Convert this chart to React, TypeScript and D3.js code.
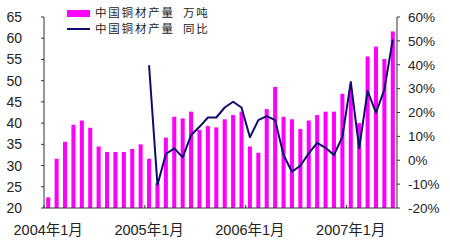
import React from 'react';
import * as d3 from 'd3';

const categories = [
  '2004-01','2004-02','2004-03','2004-04','2004-05','2004-06','2004-07','2004-08','2004-09','2004-10','2004-11','2004-12',
  '2005-01','2005-02','2005-03','2005-04','2005-05','2005-06','2005-07','2005-08','2005-09','2005-10','2005-11','2005-12',
  '2006-01','2006-02','2006-03','2006-04','2006-05','2006-06','2006-07','2006-08','2006-09','2006-10','2006-11','2006-12',
  '2007-01','2007-02','2007-03','2007-04','2007-05','2007-06',
];

const output: number[] = [
  22.5, 31.6, 35.6, 39.6, 40.6, 38.9, 34.5, 33.2, 33.2, 33.2, 33.9, 35.0,
  31.6, 25.9, 36.6, 41.5, 41.1, 42.7, 38.4, 39.3, 39.0, 40.9, 41.9, 42.7,
  34.5, 33.0, 43.3, 48.5, 41.5, 40.9, 38.6, 40.6, 41.9, 42.7, 42.7, 46.9,
  48.0, 40.0, 55.7, 58.0, 55.1, 61.6,
];

const yoy: (number | null)[] = [
  null, null, null, null, null, null, null, null, null, null, null, null,
  39.8, -10.4, 2.6, 5.0, 1.2, 10.5, 14.0, 17.9, 17.9, 22.1, 24.5, 22.1,
  9.6, 16.8, 18.5, 16.8, 2.2, -4.8, -2.3, 2.9, 7.3, 5.2, 2.2, 9.8,
  32.8, 5.0, 29.1, 19.9, 29.7, 50.6,
];

const leftTicks = [20, 25, 30, 35, 40, 45, 50, 55, 60, 65];
const rightTicks = [-20, -10, 0, 10, 20, 30, 40, 50, 60];
const xLabelCats = ['2004-01', '2005-01', '2006-01', '2007-01'];
const xLabels = ['2004年1月', '2005年1月', '2006年1月', '2007年1月'];
const legendBar = ['中国铜材产量', '万吨'];
const legendLine = ['中国铜材产量', '同比'];

const W = 450, H = 250;
const L = 44, R = 397, T = 17, B = 208;
const FONT = '"Liberation Sans", Arial, "Noto Sans CJK SC", sans-serif';
const CJK = '"Noto Sans CJK SC", "Liberation Sans", sans-serif';
const AXIS = '#333';

export default function App() {
  const x = d3.scaleBand<string>().domain(categories).range([L, R]).paddingInner(0.52).paddingOuter(0.26);
  const step = x.step();
  const bw = x.bandwidth();
  const cx = (c: string) => (x(c) as number) + bw / 2;
  const yL = d3.scaleLinear().domain([20, 65]).range([B, T]);
  const yR = d3.scaleLinear().domain([-20, 60]).range([B, T]);

  const lineData = categories.map((c, i) => ({ c, v: yoy[i] }));
  const line = d3.line<{ c: string; v: number | null }>()
    .defined(d => d.v != null)
    .x(d => cx(d.c))
    .y(d => yR(d.v as number));

  const yearTicks = [0, 12, 24, 36].map(k => L + k * step);

  return (
    <svg width={W} height={H} style={{ position: 'absolute', left: 0, top: 0, background: '#fff' }}>
      <rect x={0} y={0} width={W} height={H} fill="#fff" />
      {categories.map((c, i) => (
        <rect key={c} x={x(c)} y={yL(output[i])} width={bw} height={B - yL(output[i])} fill="#ff00ff" />
      ))}
      <path d={line(lineData) || ''} fill="none" stroke="#0d0d70" strokeWidth={2} strokeLinejoin="round" />

      {/* left axis */}
      <line x1={L} x2={L} y1={T} y2={B} stroke={AXIS} strokeWidth={1} />
      {leftTicks.map(t => (
        <g key={t}>
          <line x1={L - 3} x2={L} y1={yL(t)} y2={yL(t)} stroke={AXIS} />
          <text x={22} y={yL(t)} dy="0.36em" textAnchor="end" fontFamily={FONT} fontSize={14} fill="#222">{t}</text>
        </g>
      ))}
      {/* right axis */}
      <line x1={R} x2={R} y1={T} y2={B} stroke={AXIS} strokeWidth={1} />
      {rightTicks.map(t => (
        <g key={t}>
          <line x1={R} x2={R + 3} y1={yR(t)} y2={yR(t)} stroke={AXIS} />
          <text x={408} y={yR(t)} dy="0.36em" textAnchor="start" fontFamily={FONT} fontSize={13.5} fill="#222">{t === 0 ? '0%' : `${t}%`}</text>
        </g>
      ))}
      {/* bottom axis */}
      <line x1={L} x2={R} y1={B} y2={B} stroke={AXIS} strokeWidth={1} />
      {yearTicks.map((tx, i) => (
        <line key={i} x1={tx} x2={tx} y1={B} y2={B - 3} stroke={AXIS} />
      ))}
      {xLabelCats.map((c, i) => (
        <text key={c} x={cx(c)} y={235} textAnchor="middle" fontFamily={FONT} fontSize={14.5} fill="#222">{xLabels[i]}</text>
      ))}

      {/* legend */}
      <rect x={67} y={10} width={23} height={7} fill="#ff00ff" />
      <text x={95} y={17} fontFamily={CJK} fontSize={11.5} letterSpacing={1.8} fill="#222">{legendBar[0]}</text>
      <text x={183} y={17} fontFamily={CJK} fontSize={11.5} letterSpacing={1.8} fill="#222">{legendBar[1]}</text>
      <line x1={67} x2={90} y1={29} y2={29} stroke="#0d0d70" strokeWidth={2} />
      <text x={95} y={32.5} fontFamily={CJK} fontSize={11.5} letterSpacing={1.8} fill="#222">{legendLine[0]}</text>
      <text x={183} y={32.5} fontFamily={CJK} fontSize={11.5} letterSpacing={1.8} fill="#222">{legendLine[1]}</text>
    </svg>
  );
}
